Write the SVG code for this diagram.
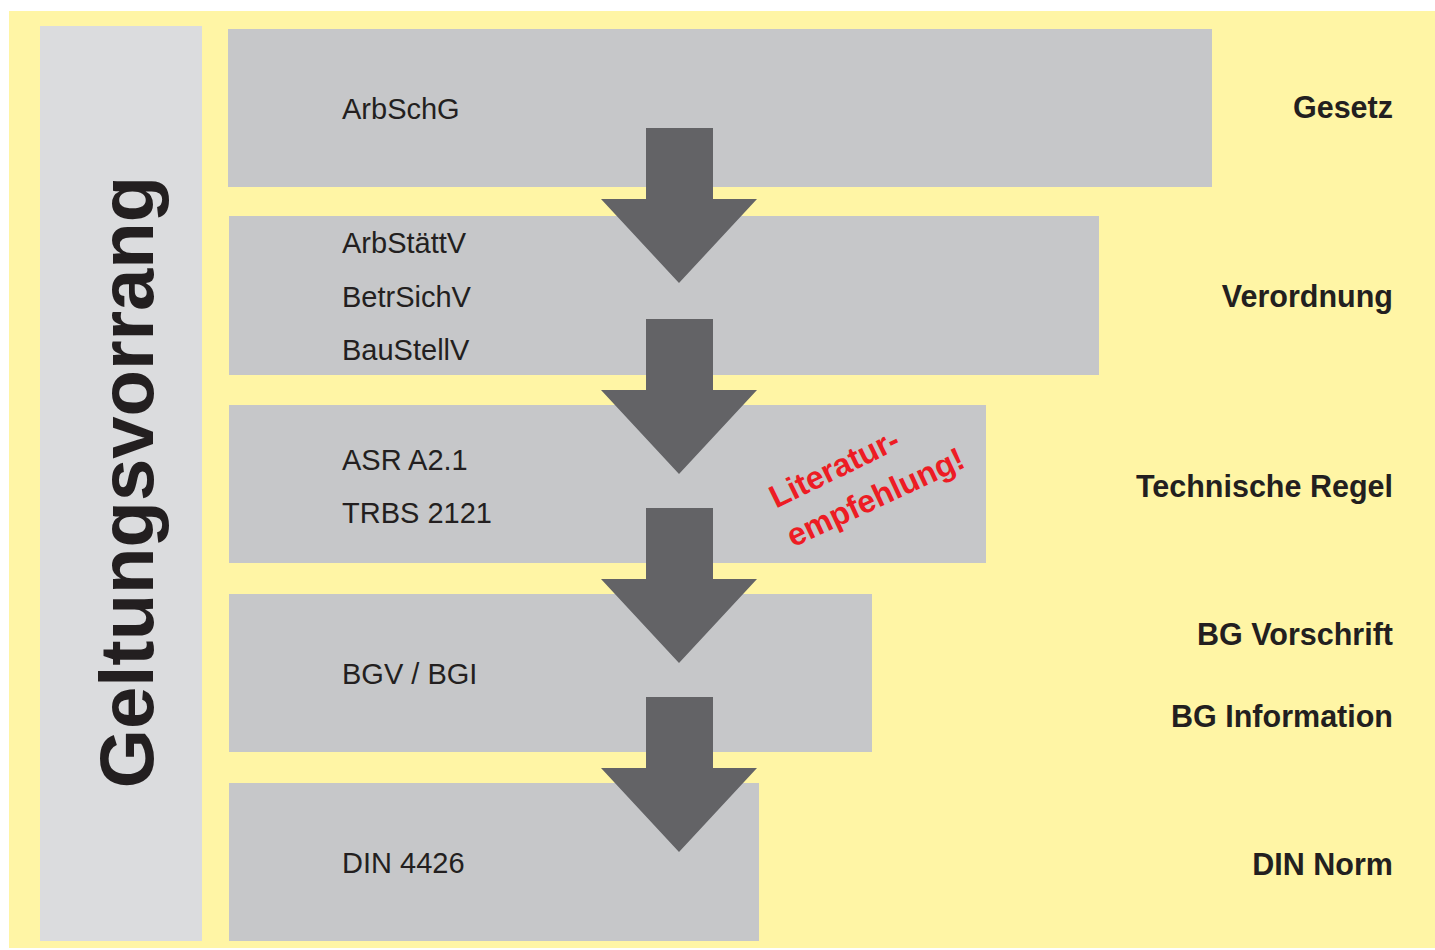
<svg xmlns="http://www.w3.org/2000/svg" width="1435" height="950" viewBox="0 0 1435 950">
<defs>
<style>
.box{fill:#C6C7C9}
.lbl{font-family:"Liberation Sans",Arial,sans-serif;font-size:29px;fill:#231F20}
.cat{font-family:"Liberation Sans",Arial,sans-serif;font-size:30.5px;font-weight:bold;fill:#231F20;text-anchor:end}
.arrow{fill:#636366}
.red{font-family:"Liberation Sans",Arial,sans-serif;font-size:32px;font-weight:bold;fill:#ED1C24;text-anchor:middle}
</style>
<polygon id="arr" points="646,128 713,128 713,199 757,199 679,283 601,199 646,199"/>
</defs>
<rect x="0" y="0" width="1435" height="950" fill="#FFFFFF"/>
<rect x="9" y="11" width="1426" height="937" fill="#FFF5A5"/>
<g id="column">
<rect x="40" y="26" width="162" height="915" fill="#DBDCDE"/>
<text transform="translate(153,482) rotate(-90)" text-anchor="middle" font-family="Liberation Sans,Arial,sans-serif" font-size="76" font-weight="bold" fill="#231F20">Geltungsvorrang</text>
</g>
<g id="gesetz">
<rect class="box" x="228" y="29" width="984" height="158"/>
<text class="lbl" x="342" y="119">ArbSchG</text>
<text class="cat" x="1393" y="118">Gesetz</text>
</g>
<g id="verordnung">
<rect class="box" x="229" y="216" width="870" height="159"/>
<text class="lbl" x="342" y="253">ArbStättV</text>
<text class="lbl" x="342" y="307">BetrSichV</text>
<text class="lbl" x="342" y="360">BauStellV</text>
<text class="cat" x="1393" y="307">Verordnung</text>
</g>
<g id="technische-regel">
<rect class="box" x="229" y="405" width="757" height="158"/>
<text class="lbl" x="342" y="470">ASR A2.1</text>
<text class="lbl" x="342" y="523">TRBS 2121</text>
<text class="cat" x="1393" y="497">Technische Regel</text>
</g>
<g id="bg">
<rect class="box" x="229" y="594" width="643" height="158"/>
<text class="lbl" x="342" y="684">BGV / BGI</text>
<text class="cat" x="1393" y="645">BG Vorschrift</text>
<text class="cat" x="1393" y="727">BG Information</text>
</g>
<g id="din">
<rect class="box" x="229" y="783" width="530" height="158"/>
<text class="lbl" x="342" y="873">DIN 4426</text>
<text class="cat" x="1393" y="875">DIN Norm</text>
</g>
<g id="connectors">
<use href="#arr" class="arrow"/>
<use href="#arr" class="arrow" y="191"/>
<use href="#arr" class="arrow" y="380"/>
<use href="#arr" class="arrow" y="569"/>
</g>
<g id="note">
<text class="red" transform="translate(839,478) rotate(-26)">Literatur-</text>
<text class="red" transform="translate(880,507) rotate(-25)">empfehlung!</text>
</g>
</svg>
